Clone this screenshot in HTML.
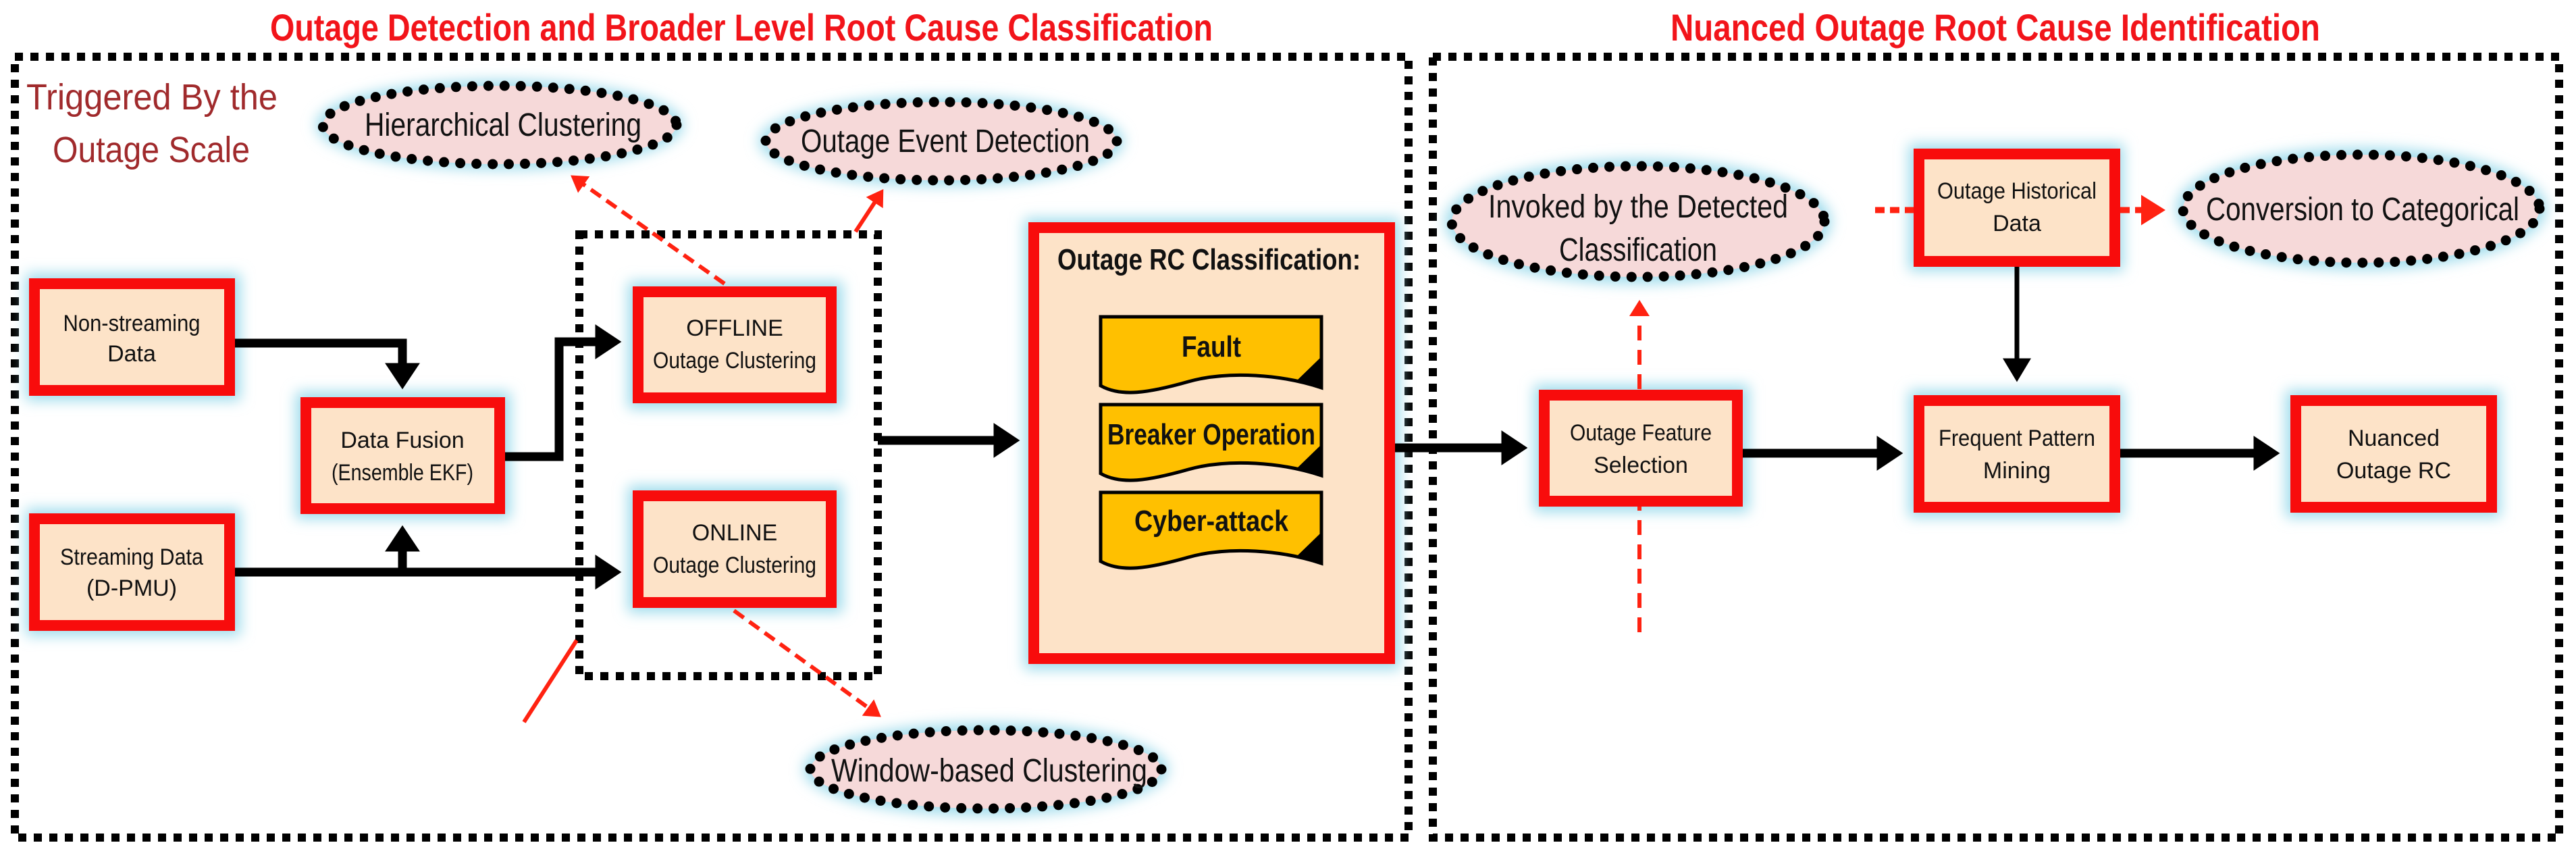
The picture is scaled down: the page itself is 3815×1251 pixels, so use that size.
<!DOCTYPE html>
<html><head><meta charset="utf-8"><style>
html,body{margin:0;padding:0;background:#fff;}
svg{display:block;}
text{font-family:"Liberation Sans Narrow","Liberation Sans",sans-serif;}
</style></head><body>
<svg width="3815" height="1251" viewBox="0 0 3815 1251" xmlns="http://www.w3.org/2000/svg">
<defs>
<filter id="glow" x="-30%" y="-30%" width="160%" height="160%"><feGaussianBlur stdDeviation="10"/></filter>
<marker id="ah" markerWidth="4" markerHeight="4" refX="2.2" refY="2" orient="auto" markerUnits="strokeWidth"><path d="M0,0 L3,2 L0,4 z" fill="#000"/></marker>
<marker id="ahs" markerWidth="6" markerHeight="6" refX="3.5" refY="3" orient="auto" markerUnits="strokeWidth"><path d="M0,0 L5,3 L0,6 z" fill="#000"/></marker>
<marker id="ar" markerWidth="5" markerHeight="5" refX="3" refY="2.5" orient="auto" markerUnits="strokeWidth"><path d="M0,0 L4,2.5 L0,5 z" fill="#f21"/></marker>
</defs>

<text x="400" y="60" font-size="56" font-weight="bold" fill="#f2141a" textLength="1396" lengthAdjust="spacingAndGlyphs">Outage Detection and Broader Level Root Cause Classification</text>
<text x="2474" y="60" font-size="56" font-weight="bold" fill="#f2141a" textLength="962" lengthAdjust="spacingAndGlyphs">Nuanced Outage Root Cause Identification</text>

<g fill="none" stroke="#000" stroke-width="12" stroke-dasharray="12 11">
<rect x="22" y="84" width="2064" height="1156"/>
<rect x="2122" y="84" width="1668" height="1156"/>
<rect x="858" y="347" width="442" height="654"/>
</g>

<text x="39" y="162" font-size="54" fill="#a02a2c" textLength="372" lengthAdjust="spacingAndGlyphs">Triggered By the</text>
<text x="78" y="240" font-size="54" fill="#a02a2c" textLength="292" lengthAdjust="spacingAndGlyphs">Outage Scale</text>

<g fill="#9fdcec" filter="url(#glow)">
<rect x="38" y="405" width="318" height="188"/>
<rect x="38" y="753" width="318" height="188"/>
<rect x="438" y="580" width="318" height="188"/>
<rect x="930" y="417" width="318" height="188"/>
<rect x="930" y="719" width="318" height="188"/>
<rect x="1517" y="323" width="556" height="668"/>
<rect x="2272" y="570" width="318" height="188"/>
<rect x="2827" y="213" width="318" height="188"/>
<rect x="2827" y="578" width="318" height="188"/>
<rect x="3385" y="578" width="318" height="188"/>
<ellipse cx="740" cy="185" rx="272" ry="66"/>
<ellipse cx="1394" cy="209" rx="270" ry="66"/>
<ellipse cx="1460" cy="1139" rx="270" ry="68"/>
<ellipse cx="2426" cy="328" rx="286" ry="92"/>
<ellipse cx="3497" cy="309" rx="274" ry="90"/>
</g>

<g fill="none" stroke="#000" stroke-width="13">
<polyline points="348,508 596,508 596,566" marker-end="url(#ah)"/>
<line x1="348" y1="847" x2="910" y2="847" marker-end="url(#ah)"/>
<line x1="596" y1="847" x2="596" y2="788" marker-end="url(#ah)"/>
<polyline points="748,676 828,676 828,506 910,506" marker-end="url(#ah)"/>
<line x1="1300" y1="652" x2="1500" y2="652" marker-end="url(#ah)"/>
<line x1="2065" y1="663" x2="2252" y2="663" marker-end="url(#ah)"/>
<line x1="2581" y1="671" x2="2808" y2="671" marker-end="url(#ah)"/>
<line x1="3140" y1="671" x2="3366" y2="671" marker-end="url(#ah)"/>
</g>
<line x1="2987" y1="395" x2="2987" y2="555" stroke="#000" stroke-width="7" marker-end="url(#ahs)"/>

<g fill="none" stroke="#f21" stroke-width="6">
<line x1="1073" y1="420" x2="850" y2="263" stroke-dasharray="18 10" marker-end="url(#ar)"/>
<line x1="1267" y1="343" x2="1305" y2="285" marker-end="url(#ar)"/>
<line x1="1087" y1="904" x2="1300" y2="1058" stroke-dasharray="18 10" marker-end="url(#ar)"/>
<line x1="776" y1="1069" x2="854" y2="948"/>
<line x1="2428" y1="936" x2="2428" y2="450" stroke-dasharray="22 14" marker-end="url(#ar)"/>
<line x1="2777" y1="311" x2="2834" y2="311" stroke-width="9" stroke-dasharray="14 8"/>
<line x1="3140" y1="311" x2="3198" y2="311" stroke-width="9" stroke-dasharray="14 8" marker-end="url(#ar)"/>
</g>

<g fill="#fde3c8" stroke="#f80c0c" stroke-width="16">
<rect x="51" y="420" width="289" height="158"/>
<rect x="51" y="768" width="289" height="158"/>
<rect x="453" y="596" width="287" height="157"/>
<rect x="945" y="432" width="286" height="157"/>
<rect x="945" y="734" width="286" height="158"/>
<rect x="1531" y="337" width="527" height="638"/>
<rect x="2287" y="585" width="286" height="157"/>
<rect x="2842" y="228" width="290" height="159"/>
<rect x="2842" y="593" width="290" height="158"/>
<rect x="3400" y="593" width="290" height="158"/>
</g>

<g fill="#f6d9d9" stroke="#000" stroke-width="15" stroke-dasharray="0 24" stroke-linecap="round">
<ellipse cx="740" cy="185" rx="262" ry="58"/>
<ellipse cx="1394" cy="209" rx="260" ry="58"/>
<ellipse cx="1460" cy="1139" rx="260" ry="58"/>
<ellipse cx="2426" cy="328" rx="276" ry="82"/>
<ellipse cx="3497" cy="309" rx="264" ry="80"/>
</g>

<g font-size="48" fill="#111" text-anchor="middle">
<text x="745" y="201" textLength="410" lengthAdjust="spacingAndGlyphs">Hierarchical Clustering</text>
<text x="1400" y="225" textLength="428" lengthAdjust="spacingAndGlyphs">Outage Event Detection</text>
<text x="1465" y="1157" textLength="468" lengthAdjust="spacingAndGlyphs">Window-based Clustering</text>
<text x="2426" y="322" textLength="444" lengthAdjust="spacingAndGlyphs">Invoked by the Detected</text>
<text x="2426" y="386" textLength="234" lengthAdjust="spacingAndGlyphs">Classification</text>
<text x="3499" y="326" textLength="464" lengthAdjust="spacingAndGlyphs">Conversion to Categorical</text>
</g>

<g font-size="34" fill="#111" text-anchor="middle">
<text x="195" y="490" textLength="203" lengthAdjust="spacingAndGlyphs">Non-streaming</text>
<text x="195" y="535">Data</text>
<text x="195" y="836" textLength="212" lengthAdjust="spacingAndGlyphs">Streaming Data</text>
<text x="195" y="882">(D-PMU)</text>
<text x="596" y="663">Data Fusion</text>
<text x="596" y="711" textLength="210" lengthAdjust="spacingAndGlyphs">(Ensemble EKF)</text>
<text x="1088" y="497">OFFLINE</text>
<text x="1088" y="545" textLength="242" lengthAdjust="spacingAndGlyphs">Outage Clustering</text>
<text x="1088" y="800">ONLINE</text>
<text x="1088" y="848" textLength="242" lengthAdjust="spacingAndGlyphs">Outage Clustering</text>
<text x="2430" y="652" textLength="210" lengthAdjust="spacingAndGlyphs">Outage Feature</text>
<text x="2430" y="700">Selection</text>
<text x="2987" y="294" textLength="236" lengthAdjust="spacingAndGlyphs">Outage Historical</text>
<text x="2987" y="342">Data</text>
<text x="2987" y="660" textLength="232" lengthAdjust="spacingAndGlyphs">Frequent Pattern</text>
<text x="2987" y="708">Mining</text>
<text x="3545" y="660">Nuanced</text>
<text x="3545" y="708">Outage RC</text>
</g>

<text x="1566" y="399" font-size="44" font-weight="bold" fill="#111" textLength="449" lengthAdjust="spacingAndGlyphs">Outage RC Classification:</text>

<g stroke="#000" stroke-width="5" fill="#ffc000">
<path d="M1630,469 H1957 V574 C1900,555 1820,548 1760,565 C1700,582 1660,588 1630,571 Z"/>
<path d="M1630,599 H1957 V704 C1900,685 1820,678 1760,695 C1700,712 1660,718 1630,701 Z"/>
<path d="M1630,729 H1957 V834 C1900,815 1820,808 1760,825 C1700,842 1660,848 1630,831 Z"/>
</g>
<g fill="#000">
<path d="M1955,530 V574 L1922,562 Z"/>
<path d="M1955,660 V704 L1922,692 Z"/>
<path d="M1955,790 V834 L1922,822 Z"/>
</g>
<g font-size="44" font-weight="bold" fill="#111" text-anchor="middle">
<text x="1794" y="528" textLength="88" lengthAdjust="spacingAndGlyphs">Fault</text>
<text x="1794" y="658" textLength="308" lengthAdjust="spacingAndGlyphs">Breaker Operation</text>
<text x="1794" y="786" textLength="228" lengthAdjust="spacingAndGlyphs">Cyber-attack</text>
</g>
</svg>
</body></html>
